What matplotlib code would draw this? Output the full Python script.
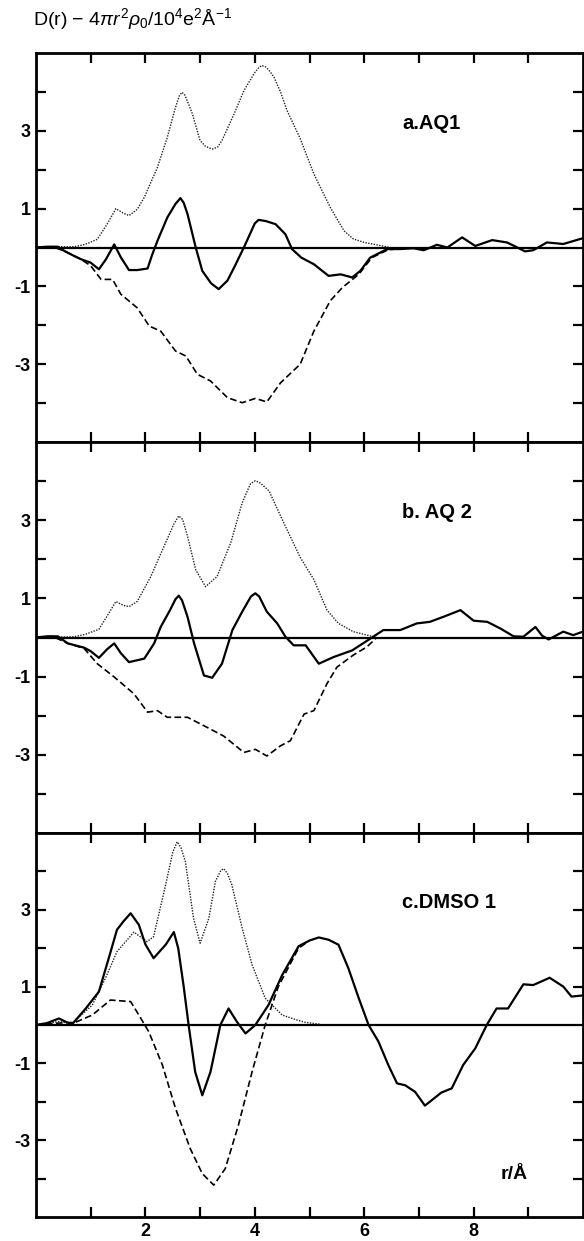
"""Three stacked D(r) panels (AQ1, AQ2, DMSO1) with solid / dotted / dashed curves."""
import matplotlib
matplotlib.use("Agg")
import matplotlib.pyplot as plt

plt.rcParams["font.family"] = ["Liberation Sans", "DejaVu Sans"]
plt.rcParams["mathtext.fontset"] = "custom"
plt.rcParams["mathtext.rm"] = "Liberation Sans"
plt.rcParams["mathtext.it"] = "Liberation Sans:italic"
plt.rcParams["mathtext.bf"] = "Liberation Sans:bold"
plt.rcParams["axes.unicode_minus"] = False

# ---- panel a: AQ 1 ----
a_solid_r = [0.0, 0.2, 0.4, 0.52, 0.7, 0.82, 1.0, 1.15, 1.28, 1.43, 1.55, 1.7, 1.85, 2.04, 2.12,
             2.22, 2.4, 2.55, 2.64, 2.7, 2.77, 2.92, 3.04, 3.2, 3.34, 3.5, 3.62, 3.8, 4.0, 4.07,
             4.2, 4.38, 4.56, 4.68, 4.85, 5.08, 5.35, 5.57, 5.78, 5.93, 6.11, 6.42, 6.66, 6.9,
             7.09, 7.33, 7.52, 7.79, 8.03, 8.34, 8.61, 8.8, 8.94, 9.09, 9.34, 9.64, 10.0]
a_solid_d = [0.0, 0.02, 0.02, -0.09, -0.22, -0.3, -0.39, -0.56, -0.3, 0.08, -0.25, -0.58, -0.58,
             -0.54, -0.2, 0.17, 0.77, 1.12, 1.27, 1.15, 0.86, 0.0, -0.6, -0.92, -1.07, -0.85,
             -0.52, 0.0, 0.62, 0.71, 0.68, 0.6, 0.34, -0.04, -0.26, -0.43, -0.73, -0.69, -0.77,
             -0.6, -0.26, -0.04, -0.04, -0.02, -0.07, 0.07, 0.0, 0.26, 0.04, 0.19, 0.13, 0.0,
             -0.1, -0.07, 0.13, 0.09, 0.24]
a_dot_r = [0.0, 0.4, 0.7, 0.9, 1.12, 1.3, 1.46, 1.6, 1.7, 1.85, 1.98, 2.22, 2.4, 2.55, 2.62, 2.67,
           2.72, 2.8, 2.86, 3.0, 3.1, 3.22, 3.32, 3.4, 3.62, 3.8, 4.0, 4.07, 4.13, 4.2, 4.28,
           4.35, 4.47, 4.59, 4.83, 5.08, 5.38, 5.63, 5.8, 6.0, 6.48]
a_dot_d = [0.0, 0.02, 0.02, 0.08, 0.21, 0.6, 1.0, 0.88, 0.82, 0.98, 1.29, 2.06, 2.83, 3.6, 3.9,
           3.99, 3.92, 3.65, 3.43, 2.75, 2.6, 2.53, 2.58, 2.75, 3.43, 4.03, 4.5, 4.62, 4.68, 4.64,
           4.52, 4.38, 4.0, 3.52, 2.8, 1.89, 1.03, 0.43, 0.22, 0.13, 0.0]
a_dash_r = [0.0, 0.3, 0.52, 0.82, 1.0, 1.19, 1.4, 1.55, 1.85, 2.07, 2.28, 2.55, 2.74, 2.95, 3.19,
            3.5, 3.77, 4.01, 4.22, 4.47, 4.83, 5.08, 5.38, 5.6, 5.9, 6.14, 6.42, 6.6]
a_dash_d = [0.0, 0.02, -0.09, -0.3, -0.47, -0.82, -0.82, -1.2, -1.55, -2.02, -2.15, -2.66, -2.79,
            -3.26, -3.43, -3.86, -3.99, -3.88, -3.97, -3.48, -3.0, -2.15, -1.37, -1.03, -0.69,
            -0.26, -0.07, -0.03]

# ---- panel b: AQ 2 ----
b_solid_r = [0.0, 0.2, 0.4, 0.58, 0.88, 1.0, 1.15, 1.3, 1.43, 1.55, 1.7, 1.98, 2.16, 2.28, 2.45,
             2.55, 2.61, 2.67, 2.77, 2.89, 3.07, 3.22, 3.4, 3.59, 3.77, 3.93, 4.01, 4.08, 4.22,
             4.41, 4.56, 4.71, 4.93, 5.17, 5.44, 5.78, 6.11, 6.35, 6.66, 6.96, 7.2, 7.45, 7.76,
             8.0, 8.25, 8.49, 8.73, 8.91, 9.13, 9.25, 9.37, 9.64, 9.82, 10.0]
b_solid_d = [0.0, 0.03, 0.03, -0.15, -0.26, -0.35, -0.52, -0.3, -0.15, -0.4, -0.63, -0.54, -0.15,
             0.27, 0.7, 0.98, 1.07, 0.95, 0.53, -0.15, -0.97, -1.03, -0.67, 0.19, 0.66, 1.05, 1.13,
             1.05, 0.66, 0.36, 0.02, -0.2, -0.2, -0.67, -0.5, -0.33, -0.03, 0.19, 0.19, 0.36, 0.4,
             0.53, 0.7, 0.43, 0.4, 0.23, 0.03, 0.02, 0.27, 0.05, -0.05, 0.15, 0.06, 0.15]
b_dot_r = [0.0, 0.7, 0.9, 1.15, 1.3, 1.46, 1.6, 1.7, 1.85, 2.1, 2.34, 2.52, 2.61, 2.68, 2.77, 2.92,
           3.1, 3.31, 3.56, 3.77, 3.92, 4.01, 4.1, 4.26, 4.5, 4.83, 5.08, 5.32, 5.53, 5.8, 6.17]
b_dot_d = [0.0, 0.02, 0.08, 0.21, 0.55, 0.92, 0.82, 0.79, 0.92, 1.56, 2.33, 2.9, 3.11, 3.02, 2.59,
           1.73, 1.3, 1.56, 2.42, 3.45, 3.93, 4.01, 3.95, 3.75, 3.02, 2.05, 1.48, 0.7, 0.36, 0.15,
           0.02]
b_dash_r = [0.0, 0.3, 0.58, 0.88, 1.12, 1.43, 1.79, 2.04, 2.22, 2.4, 2.77, 3.13, 3.43, 3.8, 4.01,
            4.22, 4.47, 4.65, 4.9, 5.08, 5.32, 5.5, 5.8, 6.05, 6.23]
b_dash_d = [0.0, 0.03, -0.15, -0.28, -0.67, -1.01, -1.44, -1.91, -1.87, -2.04, -2.04, -2.3, -2.52,
            -2.94, -2.86, -3.03, -2.77, -2.64, -1.96, -1.87, -1.18, -0.76, -0.45, -0.24, 0.0]

# ---- panel c: DMSO 1 ----
c_solid_r = [0.0, 0.2, 0.42, 0.55, 0.66, 0.91, 1.15, 1.33, 1.48, 1.6, 1.73, 1.88, 2.0, 2.15, 2.37,
             2.52, 2.6, 2.7, 2.79, 2.91, 3.04, 3.19, 3.37, 3.52, 3.67, 3.83, 4.01, 4.25, 4.5, 4.8,
             5.0, 5.17, 5.35, 5.53, 5.71, 5.9, 6.08, 6.26, 6.44, 6.6, 6.75, 6.93, 7.11, 7.41, 7.6,
             7.81, 8.03, 8.24, 8.42, 8.63, 8.91, 9.09, 9.39, 9.64, 9.79, 10.0]
c_solid_d = [0.0, 0.05, 0.17, 0.08, 0.02, 0.43, 0.87, 1.74, 2.48, 2.7, 2.91, 2.61, 2.1, 1.74, 2.09,
             2.42, 2.0, 1.0, 0.0, -1.22, -1.83, -1.22, 0.0, 0.43, 0.09, -0.22, 0.0, 0.52, 1.3,
             2.05, 2.2, 2.28, 2.22, 2.09, 1.48, 0.7, 0.0, -0.43, -1.04, -1.52, -1.57, -1.74, -2.1,
             -1.76, -1.65, -1.04, -0.61, 0.0, 0.43, 0.43, 1.06, 1.04, 1.23, 1.0, 0.74, 0.77]
c_dot_r = [0.0, 0.42, 0.66, 1.03, 1.27, 1.48, 1.79, 2.03, 2.15, 2.37, 2.5, 2.58, 2.65, 2.73, 2.88,
           3.0, 3.16, 3.28, 3.38, 3.43, 3.5, 3.58, 3.77, 3.95, 4.19, 4.5, 4.77, 4.92, 5.2]
c_dot_d = [0.0, 0.09, 0.04, 0.52, 1.22, 1.91, 2.42, 2.17, 2.3, 3.65, 4.5, 4.77, 4.62, 4.26, 2.78,
           2.13, 2.78, 3.74, 4.03, 4.07, 3.95, 3.65, 2.52, 1.57, 0.7, 0.26, 0.13, 0.07, 0.02]
c_dash_r = [0.0, 0.42, 0.72, 1.03, 1.36, 1.73, 1.88, 2.06, 2.31, 2.55, 2.82, 3.04, 3.25, 3.46, 3.7,
            3.95, 4.19, 4.43, 4.8, 5.0]
c_dash_d = [0.0, 0.05, 0.07, 0.26, 0.65, 0.61, 0.26, -0.17, -1.04, -2.17, -3.22, -3.87, -4.17,
            -3.74, -2.61, -1.22, 0.0, 1.0, 2.0, 2.2]

panel_labels = ["a.AQ1", "b. AQ 2", "c.DMSO 1"]
y_ticks = [-4, -3, -2, -1, 1, 2, 3, 4]
x_ticks = [1, 2, 3, 4, 5, 6, 7, 8, 9]

W, H = 584, 1241
# (top, bottom) of each panel in pixels
panel_px = [(53, 442), (442, 833), (833, 1217)]
left_px, right_px = 36, 583

curves = [
    (a_solid_r, a_solid_d, a_dot_r, a_dot_d, a_dash_r, a_dash_d),
    (b_solid_r, b_solid_d, b_dot_r, b_dot_d, b_dash_r, b_dash_d),
    (c_solid_r, c_solid_d, c_dot_r, c_dot_d, c_dash_r, c_dash_d),
]

fig = plt.figure(figsize=(W / 100, H / 100), dpi=100)

for i, ((top, bot), data) in enumerate(zip(panel_px, curves)):
    ax = fig.add_axes([left_px / W, 1 - bot / H, (right_px - left_px) / W, (bot - top) / H])
    sr, sd, dr, dd, hr, hd = data
    ax.axhline(0, color="black", lw=1.6)
    ax.plot(dr, dd, color="#222222", lw=1.0, linestyle=(0, (1, 1)))
    ax.plot(hr, hd, color="black", lw=1.2, linestyle=(0, (4, 2)))
    ax.plot(sr, sd, color="black", lw=1.6)

    ax.set_xlim(0, 10)
    ax.set_ylim(-5, 5)
    for s in ax.spines.values():
        s.set_linewidth(2)
    ax.tick_params(direction="in", top=True, right=True, length=7, width=1.6,
                   labelsize=13, pad=4)
    ax.set_yticks(y_ticks)
    ax.set_yticklabels([str(v) if v % 2 else "" for v in y_ticks], fontweight="bold")
    ax.set_xticks(x_ticks)
    if i == 2:
        ax.set_xticklabels([str(v) if v % 2 == 0 else "" for v in x_ticks], fontweight="bold")
    else:
        ax.set_xticklabels([])

    ax.text(6.7, 3.2, panel_labels[i], fontsize=14.5, fontweight="bold", ha="left", va="center")

ax.text(8.5, -3.9, "r/Å", fontsize=14, fontweight="bold", ha="left", va="center")

fig.text(33 / W, 1 - 19 / H, r"D(r) $-$ 4$\pi r^2\rho_0$/10$^4$e$^2$Å$^{-1}$",
         fontsize=14, ha="left", va="center")

fig.savefig("out.png", dpi=100)
